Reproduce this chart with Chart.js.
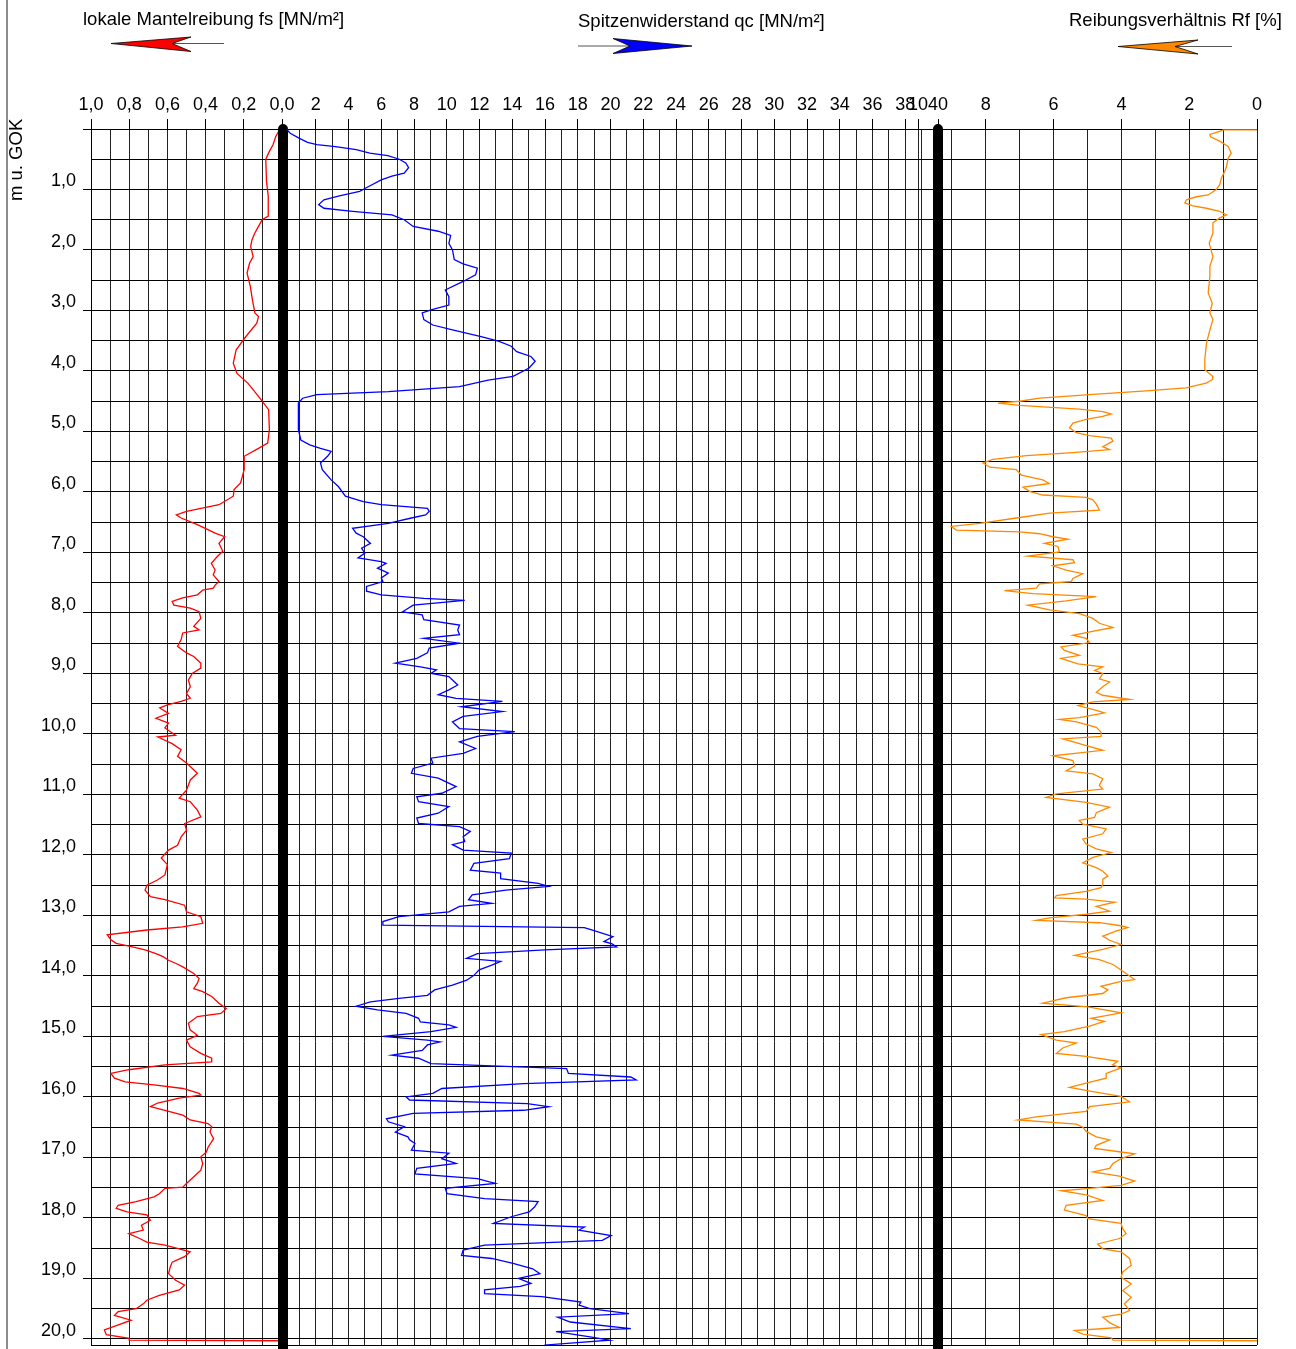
<!DOCTYPE html>
<html>
<head>
<meta charset="utf-8">
<title>Drucksondierung</title>
<script src="https://cdn.jsdelivr.net/npm/chart.js@4.4.1/dist/chart.umd.min.js"></script>
<style>
  html, body { margin: 0; padding: 0; background: #fff; }
  #page { position: relative; width: 1296px; height: 1349px; overflow: hidden; }
  #page canvas { position: absolute; top: 0; }
  #overlay { position: absolute; left: 0; top: 0; font-family: "Liberation Sans", Arial, sans-serif; }
</style>
</head>
<body>
<div id="page">
  <canvas id="fsChart" width="310" height="1349" style="left:0px"></canvas>
  <canvas id="rfChart" width="396" height="1349" style="left:900px"></canvas>
  <canvas id="qcChart" width="690" height="1349" style="left:270px"></canvas>
  <svg id="overlay" width="1296" height="1349">
    <line x1="7" y1="0" x2="7" y2="1349" stroke="#666" stroke-width="1.5"/>
    <text x="83" y="25" font-size="18.5">lokale Mantelreibung fs [MN/m²]</text>
    <text x="578" y="27" font-size="18.5">Spitzenwiderstand qc [MN/m²]</text>
    <text x="1069" y="26" font-size="18.5">Reibungsverhältnis Rf [%]</text>
    <text transform="translate(22,201) rotate(-90)" font-size="18.5">m u. GOK</text>
    <!-- direction arrows -->
    <line x1="172" y1="43.5" x2="224" y2="43.5" stroke="#555" stroke-width="1"/>
    <polygon points="111,43.5 191,37 172,43.5 191,51.5" fill="#ff0000" stroke="#000" stroke-width="0.8"/>
    <line x1="578" y1="46" x2="630" y2="46" stroke="#555" stroke-width="1"/>
    <polygon points="613,38.5 692,46 613,53.5 630,46" fill="#0000ff" stroke="#000" stroke-width="0.8"/>
    <line x1="1175" y1="46.5" x2="1232" y2="46.5" stroke="#555" stroke-width="1"/>
    <polygon points="1118,46.5 1198,40 1175,46.5 1198,54" fill="#ff8800" stroke="#000" stroke-width="0.8"/>
  </svg>
</div>
<script>
// Depth axis (m u. GOK)
const depthMax = 20;
const depthAxisEnd = 20.1;
const depthGridStep = 0.5;

// Vertical grid positions and labelled ticks of the three panels
const fsGrid = [0, 0.1, 0.2, 0.3, 0.4, 0.5, 0.6, 0.7, 0.8, 0.9, 1.0];
const fsLabelled = [0, 0.2, 0.4, 0.6, 0.8, 1.0];
const qcGridStep = 1;
const qcMax = 40;
const qcLabelled = [2, 4, 6, 8, 10, 12, 14, 16, 18, 20, 22, 24, 26, 28, 30, 32, 34, 36, 38, 40];
const rfGrid = [0, 1, 2, 3, 4, 5, 6, 7, 8, 9, 10];
const rfLabelled = [0, 2, 4, 6, 8, 10];
const qcBoundaries = [0, 40];

// lokale Mantelreibung fs [MN/m²]
const fsDepth = [0, 0.12, 0.26, 0.37, 0.5, 0.87, 1.11, 1.44, 1.5, 1.61, 1.72, 1.83, 1.94, 2.11, 2.22, 2.38, 2.6, 2.82, 3.04, 3.1,
  3.21, 3.43, 3.65, 3.87, 4.04, 4.2, 4.42, 4.64, 4.97, 5.19, 5.28, 5.41, 5.63, 5.85, 5.96, 6.07, 6.21, 6.32, 6.38, 6.43,
  6.54, 6.68, 6.74, 6.85, 6.98, 7.07, 7.18, 7.29, 7.37, 7.48, 7.54, 7.59, 7.62, 7.7, 7.75, 7.81, 7.87, 7.92, 7.98, 8.09,
  8.22, 8.28, 8.33, 8.44, 8.55, 8.66, 8.72, 8.83, 8.91, 9.0, 9.11, 9.22, 9.33, 9.41, 9.46, 9.52, 9.57, 9.66, 9.74, 9.82,
  9.9, 10.02, 10.05, 10.16, 10.26, 10.37, 10.48, 10.65, 10.76, 10.93, 11.06, 11.12, 11.26, 11.37, 11.48, 11.59, 11.7, 11.84, 11.92, 12.05,
  12.16, 12.33, 12.41, 12.5, 12.58, 12.69, 12.74, 12.83, 12.94, 13.02, 13.13, 13.19, 13.24, 13.32, 13.4, 13.46, 13.52, 13.57, 13.63, 13.68,
  13.74, 13.79, 13.85, 13.96, 14.04, 14.12, 14.21, 14.26, 14.34, 14.45, 14.54, 14.62, 14.67, 14.78, 14.89, 14.98, 15.06, 15.17, 15.28, 15.36,
  15.42, 15.47, 15.55, 15.61, 15.69, 15.75, 15.8, 15.86, 15.94, 15.97, 16.02, 16.1, 16.16, 16.22, 16.3, 16.38, 16.44, 16.49, 16.58, 16.69,
  16.83, 16.91, 16.99, 17.1, 17.21, 17.32, 17.43, 17.49, 17.51, 17.6, 17.65, 17.73, 17.79, 17.84, 17.9, 17.95, 18.04, 18.12, 18.2, 18.26,
  18.34, 18.4, 18.45, 18.51, 18.56, 18.64, 18.73, 18.81, 18.92, 19.03, 19.11, 19.19, 19.28, 19.36, 19.42, 19.5, 19.55, 19.61, 19.69, 19.77,
  19.85, 19.93, 19.99, 20.02, 20.03];
const fsValue = [0.01, 0.032, 0.047, 0.066, 0.085, 0.081, 0.072, 0.072, 0.104, 0.123, 0.142, 0.157, 0.164, 0.151, 0.17, 0.183, 0.166, 0.155, 0.142, 0.123,
  0.132, 0.189, 0.24, 0.255, 0.236, 0.179, 0.123, 0.07, 0.066, 0.075, 0.123, 0.198, 0.198, 0.217, 0.251, 0.255, 0.33, 0.5, 0.553, 0.528,
  0.443, 0.35, 0.3, 0.33, 0.31, 0.34, 0.37, 0.35, 0.36, 0.33, 0.35, 0.36, 0.415, 0.443, 0.52, 0.575, 0.566, 0.48, 0.434, 0.425,
  0.462, 0.434, 0.52, 0.528, 0.547, 0.5, 0.462, 0.425, 0.425, 0.47, 0.49, 0.48, 0.5, 0.48, 0.528, 0.6, 0.64, 0.594, 0.66, 0.594,
  0.613, 0.557, 0.65, 0.575, 0.528, 0.547, 0.5, 0.443, 0.48, 0.5, 0.538, 0.48, 0.443, 0.425, 0.51, 0.5, 0.528, 0.547, 0.594, 0.632,
  0.6, 0.613, 0.65, 0.707, 0.717, 0.689, 0.613, 0.51, 0.5, 0.425, 0.415, 0.52, 0.707, 0.915, 0.896, 0.868, 0.783, 0.717, 0.66, 0.623,
  0.594, 0.557, 0.519, 0.462, 0.434, 0.443, 0.462, 0.415, 0.368, 0.33, 0.292, 0.32, 0.443, 0.49, 0.481, 0.443, 0.5, 0.481, 0.425, 0.368,
  0.368, 0.613, 0.802, 0.896, 0.877, 0.821, 0.67, 0.519, 0.434, 0.425, 0.538, 0.651, 0.689, 0.613, 0.519, 0.481, 0.387, 0.368, 0.377, 0.358,
  0.387, 0.396, 0.425, 0.415, 0.425, 0.462, 0.5, 0.519, 0.613, 0.642, 0.67, 0.764, 0.858, 0.868, 0.811, 0.708, 0.689, 0.736, 0.726, 0.802,
  0.745, 0.708, 0.613, 0.538, 0.481, 0.51, 0.575, 0.585, 0.594, 0.557, 0.51, 0.538, 0.642, 0.708, 0.726, 0.764, 0.858, 0.877, 0.79, 0.86,
  0.93, 0.92, 0.8, 0.8, 0.0];

// Spitzenwiderstand qc [MN/m²]
const qcDepth = [0, 0.07, 0.15, 0.22, 0.26, 0.29, 0.34, 0.4, 0.44, 0.5, 0.56, 0.64, 0.73, 0.78, 0.84, 0.95, 1.03, 1.11, 1.17, 1.25,
  1.31, 1.36, 1.42, 1.5, 1.61, 1.69, 1.76, 1.89, 2.0, 2.16, 2.23, 2.3, 2.41, 2.52, 2.66, 2.77, 2.91, 2.99, 3.04, 3.15,
  3.24, 3.32, 3.43, 3.51, 3.59, 3.68, 3.76, 3.84, 3.95, 4.09, 4.15, 4.26, 4.34, 4.39, 4.45, 4.53, 4.97, 5.14, 5.22, 5.28,
  5.33, 5.41, 5.52, 5.63, 5.8, 5.91, 6.07, 6.16, 6.21, 6.27, 6.32, 6.38, 6.43, 6.52, 6.6, 6.68, 6.74, 6.79, 6.85, 6.93,
  7.01, 7.09, 7.15, 7.18, 7.26, 7.34, 7.42, 7.48, 7.56, 7.64, 7.7, 7.76, 7.79, 7.87, 7.98, 8.03, 8.11, 8.2, 8.28, 8.36,
  8.42, 8.5, 8.58, 8.66, 8.75, 8.83, 8.89, 8.94, 9.0, 9.05, 9.19, 9.27, 9.35, 9.41, 9.46, 9.55, 9.63, 9.71, 9.8, 9.91,
  9.96, 10.04, 10.13, 10.24, 10.32, 10.4, 10.48, 10.57, 10.65, 10.73, 10.87, 10.98, 11.04, 11.12, 11.2, 11.31, 11.39, 11.48, 11.53, 11.61,
  11.7, 11.78, 11.83, 11.92, 11.97, 12.06, 12.14, 12.25, 12.3, 12.39, 12.47, 12.52, 12.58, 12.66, 12.74, 12.8, 12.85, 12.94, 13.02, 13.1,
  13.16, 13.2, 13.24, 13.35, 13.43, 13.47, 13.52, 13.57, 13.63, 13.71, 13.76, 13.82, 13.9, 13.99, 14.07, 14.15, 14.23, 14.32, 14.37, 14.43,
  14.5, 14.56, 14.62, 14.7, 14.76, 14.81, 14.85, 14.92, 15.0, 15.06, 15.09, 15.14, 15.23, 15.31, 15.36, 15.45, 15.53, 15.61, 15.67, 15.72,
  15.78, 15.86, 15.94, 16.0, 16.05, 16.11, 16.16, 16.22, 16.27, 16.36, 16.41, 16.49, 16.58, 16.66, 16.71, 16.77, 16.88, 16.93, 17.02, 17.1,
  17.18, 17.27, 17.35, 17.43, 17.51, 17.6, 17.68, 17.73, 17.82, 17.9, 17.98, 18.09, 18.15, 18.2, 18.29, 18.37, 18.45, 18.53, 18.62, 18.67,
  18.75, 18.84, 18.92, 19.0, 19.08, 19.13, 19.19, 19.25, 19.3, 19.39, 19.44, 19.5, 19.58, 19.64, 19.72, 19.83, 19.88, 19.97, 20.02, 20.1,
  20.15];
const qcValue = [0.2, 0.44, 0.98, 1.5, 2.07, 3.2, 4.47, 5.3, 6.4, 7.1, 7.5, 7.67, 7.4, 6.65, 6.0, 5.23, 4.68, 3.38, 2.5, 2.18,
  2.5, 4.25, 6.65, 7.4, 7.95, 9.48, 10.24, 10.13, 10.35, 10.46, 11.0, 11.87, 11.76, 11.0, 9.91, 10.13, 10.13, 9.04, 8.5, 8.6,
  9.15, 10.35, 12.1, 13.2, 13.94, 14.27, 15.14, 15.4, 15.03, 14.05, 12.53, 10.78, 6.43, 2.07, 1.2, 0.94, 0.94, 1.09, 1.63, 2.29,
  2.94, 2.72, 2.29, 2.4, 2.94, 3.38, 3.81, 4.9, 6.0, 8.82, 8.93, 8.71, 7.84, 6.43, 4.25, 4.47, 4.9, 5.1, 5.34, 4.8,
  5.0, 4.58, 6.0, 6.3, 5.77, 6.43, 6.0, 6.1, 5.1, 5.1, 6.0, 8.6, 11.1, 7.95, 7.3, 8.5, 8.6, 10.78, 10.67, 10.78,
  8.6, 10.78, 8.93, 8.82, 8.17, 6.86, 8.39, 9.37, 9.04, 10.13, 10.67, 10.13, 9.48, 10.57, 13.4, 10.9, 13.4, 11.0, 10.35, 10.78,
  14.16, 11.87, 10.78, 11.76, 11.0, 9.04, 9.15, 7.95, 7.84, 9.48, 10.57, 9.7, 8.17, 8.28, 10.13, 9.48, 8.17, 8.28, 10.78, 11.44,
  11.0, 11.1, 10.35, 11.0, 13.94, 13.83, 11.66, 11.44, 13.29, 13.29, 15.58, 16.23, 13.6, 11.55, 11.33, 12.75, 10.78, 10.13, 7.08, 6.1,
  6.1, 18.4, 18.85, 20.15, 19.6, 20.1, 20.37, 16.0, 11.87, 11.2, 13.29, 12.75, 11.98, 11.66, 11.22, 10.35, 9.26, 8.82, 7.08, 5.34,
  4.47, 5.77, 7.52, 8.28, 8.39, 10.13, 10.57, 9.04, 6.1, 8.82, 9.59, 8.82, 8.5, 6.65, 8.28, 9.04, 17.32, 17.43, 21.24, 21.57,
  14.7, 9.7, 9.15, 7.52, 7.73, 14.92, 16.23, 14.7, 7.95, 6.32, 6.43, 7.41, 6.86, 7.63, 7.73, 8.06, 7.84, 10.13, 9.7, 10.57,
  8.17, 8.06, 11.87, 12.96, 9.91, 10.02, 12.31, 15.58, 15.36, 15.03, 13.94, 12.85, 18.41, 18.08, 20.04, 19.5, 12.31, 11.0, 10.9, 12.75,
  14.05, 15.25, 15.69, 14.38, 15.14, 14.49, 12.31, 12.31, 15.8, 18.19, 18.08, 18.74, 21.13, 16.78, 17.54, 21.24, 16.67, 18.85, 19.93, 16.0,
  16.0];

// Reibungsverhältnis Rf [%]
const rfDepth = [0.015, 0.015, 0.04, 0.09, 0.13, 0.2, 0.29, 0.4, 0.48, 0.62, 0.7, 0.81, 0.92, 1.0, 1.09, 1.12, 1.17, 1.22, 1.27, 1.31,
  1.36, 1.42, 1.47, 1.55, 1.72, 1.89, 2.11, 2.27, 2.44, 2.71, 2.88, 3.04, 3.15, 3.32, 3.54, 3.81, 3.98, 4.09, 4.14, 4.2,
  4.28, 4.33, 4.39, 4.45, 4.5, 4.53, 4.57, 4.63, 4.67, 4.71, 4.75, 4.8, 4.86, 4.94, 5.02, 5.07, 5.11, 5.16, 5.25, 5.3,
  5.35, 5.4, 5.46, 5.52, 5.59, 5.63, 5.72, 5.8, 5.86, 5.92, 5.99, 6.05, 6.09, 6.13, 6.2, 6.3, 6.35, 6.43, 6.52, 6.57,
  6.63, 6.66, 6.69, 6.74, 6.78, 6.85, 6.9, 6.99, 7.06, 7.12, 7.17, 7.22, 7.29, 7.35, 7.43, 7.48, 7.52, 7.59, 7.63, 7.68,
  7.73, 7.8, 7.87, 7.95, 8.01, 8.09, 8.17, 8.24, 8.31, 8.37, 8.42, 8.49, 8.56, 8.62, 8.7, 8.75, 8.84, 8.89, 8.95, 9.0,
  9.09, 9.14, 9.22, 9.31, 9.36, 9.43, 9.47, 9.53, 9.61, 9.65, 9.73, 9.76, 9.8, 9.89, 9.97, 10.04, 10.08, 10.16, 10.27, 10.36,
  10.44, 10.53, 10.61, 10.66, 10.74, 10.85, 10.91, 10.99, 11.05, 11.13, 11.21, 11.3, 11.38, 11.43, 11.49, 11.57, 11.65, 11.74, 11.82, 11.9,
  11.96, 12.04, 12.13, 12.21, 12.27, 12.35, 12.4, 12.49, 12.54, 12.6, 12.67, 12.71, 12.73, 12.78, 12.85, 12.93, 12.98, 13.04, 13.08, 13.12,
  13.17, 13.2, 13.26, 13.34, 13.41, 13.48, 13.56, 13.66, 13.73, 13.81, 13.9, 13.98, 14.06, 14.09, 14.17, 14.23, 14.29, 14.36, 14.45, 14.51,
  14.61, 14.7, 14.75, 14.83, 14.92, 14.97, 15.06, 15.11, 15.19, 15.28, 15.33, 15.41, 15.47, 15.52, 15.61, 15.69, 15.77, 15.84, 15.91, 15.99,
  16.08, 16.16, 16.24, 16.33, 16.38, 16.45, 16.5, 16.57, 16.66, 16.71, 16.8, 16.85, 16.91, 16.94, 17.02, 17.1, 17.18, 17.24, 17.31, 17.39,
  17.46, 17.51, 17.55, 17.62, 17.71, 17.79, 17.87, 17.96, 18.01, 18.09, 18.18, 18.26, 18.34, 18.43, 18.51, 18.56, 18.67, 18.78, 18.89, 18.98,
  19.09, 19.2, 19.31, 19.42, 19.53, 19.59, 19.64, 19.73, 19.81, 19.86, 19.92, 19.98, 20.02, 20.03];
const rfValue = [0.0, 1.0, 1.1, 1.39, 1.37, 1.1, 0.85, 0.76, 0.85, 0.9, 0.95, 1.05, 1.1, 1.2, 1.44, 1.79, 2.08, 2.13, 1.89, 1.49,
  1.1, 0.9, 1.1, 1.3, 1.3, 1.41, 1.3, 1.39, 1.39, 1.44, 1.32, 1.39, 1.3, 1.39, 1.49, 1.54, 1.54, 1.3, 1.31, 1.5,
  2.09, 3.27, 4.94, 6.41, 7.0, 7.64, 7.0, 5.24, 4.55, 4.3, 4.55, 5.04, 5.43, 5.53, 5.33, 4.94, 4.3, 4.25, 4.55, 4.35,
  5.43, 6.8, 7.79, 8.08, 7.88, 7.1, 6.95, 6.32, 6.13, 6.9, 6.71, 6.32, 5.04, 4.84, 4.74, 4.65, 6.12, 7.1, 8.18, 9.02,
  8.87, 7.0, 6.41, 6.02, 5.58, 6.27, 5.87, 5.83, 6.76, 5.43, 5.38, 6.02, 5.63, 5.14, 5.43, 5.48, 6.41, 6.51, 7.45, 6.61,
  4.74, 5.63, 6.76, 6.12, 5.24, 4.84, 4.65, 4.25, 4.89, 5.43, 5.04, 4.94, 5.78, 5.68, 5.24, 5.78, 5.28, 4.55, 4.79, 4.55,
  4.65, 4.35, 4.55, 4.74, 4.55, 3.76, 4.84, 5.28, 4.74, 4.5, 5.24, 5.83, 5.33, 4.74, 4.6, 4.6, 5.73, 5.24, 4.55, 6.02,
  5.43, 5.38, 5.63, 4.84, 4.55, 4.65, 4.55, 5.92, 6.22, 5.04, 4.35, 4.74, 4.79, 5.24, 5.14, 4.45, 4.55, 5.14, 5.04, 4.74,
  4.3, 4.84, 5.14, 4.74, 4.55, 4.4, 4.55, 4.55, 4.6, 5.04, 5.92, 5.97, 5.04, 4.2, 4.74, 4.35, 5.04, 6.12, 6.51, 4.65,
  4.01, 3.81, 4.16, 4.55, 4.35, 4.01, 4.55, 5.38, 4.65, 4.25, 4.01, 3.81, 3.61, 4.01, 4.6, 4.4, 4.55, 5.63, 6.32, 4.99,
  4.01, 4.89, 4.5, 4.94, 5.68, 6.37, 5.92, 5.33, 5.73, 5.92, 5.04, 4.11, 4.26, 4.01, 4.45, 4.45, 5.04, 5.53, 4.84, 4.01,
  3.76, 4.94, 5.04, 6.51, 7.05, 5.33, 5.14, 5.04, 4.74, 4.35, 4.74, 4.79, 4.01, 3.61, 4.01, 4.25, 4.35, 4.84, 4.06, 3.61,
  4.01, 4.94, 5.78, 5.04, 4.55, 5.63, 5.68, 5.04, 4.99, 4.01, 3.96, 3.86, 4.06, 4.7, 4.55, 4.01, 3.76, 3.71, 3.96, 4.01,
  3.71, 3.96, 3.71, 3.91, 3.76, 4.01, 4.55, 4.35, 4.06, 5.38, 5.14, 4.3, 4.25, 0.0];

Chart.defaults.font.family = '"Liberation Sans", Arial, sans-serif';
Chart.defaults.font.size = 18;
Chart.defaults.color = '#000';

const axisTop = 129;
const gridColor = '#222';

const depthTicks = [];
for (let d = 0; d <= depthMax; d += depthGridStep) depthTicks.push(d);
depthTicks.push(depthAxisEnd);

const qcGrid = [];
for (let v = 0; v <= qcMax; v += qcGridStep) qcGrid.push(v);

function isIn(list, v) {
  return list.some(x => Math.abs(x - v) < 1e-6);
}

function points(values, depths) {
  return values.map((v, i) => ({ x: v, y: depths[i] }));
}

function depthScale(width, tickLength, labels) {
  return {
    type: 'linear',
    position: 'left',
    min: 0,
    max: depthAxisEnd,
    reverse: true,
    afterBuildTicks: s => { s.ticks = depthTicks.map(v => ({ value: v })); },
    afterFit: s => { s.width = width; s.paddingTop = 0; s.paddingBottom = 0; },
    grid: {
      color: '#000',
      drawTicks: tickLength > 0,
      tickLength: tickLength,
      tickColor: ctx => (ctx.tick && (labels ? Number.isInteger(ctx.tick.value) : ctx.tick.value <= depthMax)) ? '#000' : 'rgba(0,0,0,0)'
    },
    border: { display: labels, color: '#000' },
    ticks: {
      display: labels,
      autoSkip: false,
      padding: 7,
      labelOffset: -8,
      callback: v => (Number.isInteger(v) && v >= 1) ? v.toFixed(1).replace('.', ',') : ''
    }
  };
}

function valueScale(min, max, reverse, grid, labelled, format) {
  return {
    type: 'linear',
    position: 'top',
    min: min,
    max: max,
    reverse: reverse,
    afterBuildTicks: s => { s.ticks = grid.map(v => ({ value: v })); },
    afterFit: s => { s.height = axisTop; s.paddingLeft = 0; s.paddingRight = 0; },
    grid: {
      color: gridColor,
      tickLength: 10,
      tickColor: ctx => (ctx.tick && isIn(labelled, ctx.tick.value)) ? '#000' : 'rgba(0,0,0,0)'
    },
    border: { display: true, color: '#000' },
    ticks: {
      autoSkip: false,
      maxRotation: 0,
      minRotation: 0,
      padding: 3,
      callback: v => isIn(labelled, v) ? format(v) : ''
    }
  };
}

function panel(id, padding, xScale, yScale, datasets) {
  return new Chart(document.getElementById(id), {
    type: 'scatter',
    data: { datasets: datasets },
    options: {
      responsive: false,
      animation: false,
      devicePixelRatio: 1,
      events: [],
      layout: { padding: padding },
      plugins: { legend: { display: false }, tooltip: { enabled: false } },
      scales: { x: xScale, y: yScale }
    }
  });
}

function trace(values, depths, color) {
  return {
    data: points(values, depths),
    showLine: true,
    borderColor: color,
    borderWidth: 1.3,
    pointRadius: 0,
    fill: false,
    tension: 0
  };
}

panel('fsChart',
  { left: 0, right: 28, top: 0, bottom: 4 },
  valueScale(0, 1, true, fsGrid, fsLabelled, v => v.toFixed(1).replace('.', ',')),
  depthScale(91, 8, true),
  [trace(fsValue, fsDepth, '#ff0000')]);

panel('rfChart',
  { left: 18, right: 39, top: 0, bottom: 4 },
  valueScale(0, 10, true, rfGrid, rfLabelled, v => String(v)),
  depthScale(0, 8, false),
  [trace(rfValue, rfDepth, '#ff8800')]);

const boundarySets = qcBoundaries.map(v => ({
  data: [{ x: v, y: 0 }, { x: v, y: depthAxisEnd + 0.1 }],
  showLine: true,
  borderColor: '#000',
  borderWidth: 10,
  borderCapStyle: 'round',
  pointRadius: 0,
  clip: false
}));

panel('qcChart',
  { left: 13, right: 22, top: 0, bottom: 4 },
  valueScale(0, qcMax, false, qcGrid, qcLabelled, v => String(v)),
  depthScale(0, 0, false),
  [trace(qcValue, qcDepth, '#0000ff')].concat(boundarySets));
</script>
</body>
</html>
